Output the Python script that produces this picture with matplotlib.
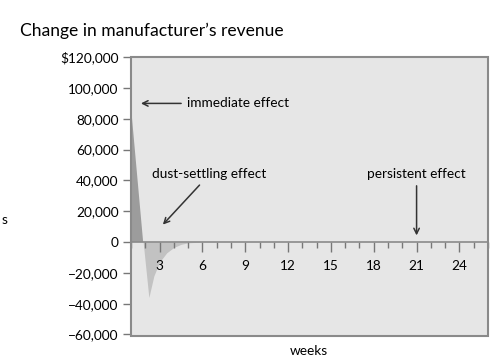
import matplotlib.pyplot as plt
from matplotlib.patches import Rectangle
from matplotlib.ticker import MultipleLocator, FuncFormatter

# weeks after the price change
weeks = [1, 1.85, 2.25, 2.6, 3.0, 3.5, 4.0, 4.5, 5.0, 6, 26]
revenue = [87500, 0, -36000, -22000, -13000, -7000, -3500, -1500, -500, 0, 0]

yticks = [-60000, -40000, -20000, 0, 20000, 40000, 60000, 80000, 100000, 120000]
xticks = [3, 6, 9, 12, 15, 18, 21, 24]

plt.rcParams['font.family'] = ['Lato', 'DejaVu Sans']

fig = plt.figure(figsize=(5.01, 3.57), dpi=100)
ax = fig.add_axes([0.2615, 0.0588, 0.7125, 0.781])
ax.set_facecolor('#e6e6e6')

ax.fill_between(weeks, revenue, 0, where=[v >= 0 for v in revenue],
                color='#9c9c9c', lw=0, interpolate=True)
ax.fill_between(weeks, revenue, 0, where=[v <= 0 for v in revenue],
                color='#c2c2c2', lw=0, interpolate=True)

ax.set_xlim(1, 26)
ax.set_ylim(-61000, 120000)

# frame + zero axis
for s in ['top', 'right', 'left']:
    ax.spines[s].set_color('#8a8a8a')
    ax.spines[s].set_linewidth(1.2)
ax.spines['bottom'].set_position(('data', 0))
ax.spines['bottom'].set_color('#8a8a8a')
ax.spines['bottom'].set_linewidth(1.2)
ax.add_patch(Rectangle((0, 0), 1, 1, transform=ax.transAxes, fill=False,
                       ec='#8a8a8a', lw=1.5, zorder=5, clip_on=False))

ax.set_yticks(yticks)
def yfmt(v, pos):
    if v == 120000:
        return '$120,000'
    if v < 0:
        return '\u2212' + format(int(-v), ',')
    return format(int(v), ',')
ax.yaxis.set_major_formatter(FuncFormatter(yfmt))
ax.tick_params(axis='y', direction='out', length=6, width=1, color='#777777',
               labelsize=9.8, pad=3)

ax.set_xticks(xticks)
ax.xaxis.set_minor_locator(MultipleLocator(1))
ax.tick_params(axis='x', which='major', direction='out', length=7, width=1,
               color='#777777', labelsize=9.8, pad=6)
ax.tick_params(axis='x', which='minor', direction='out', length=4, width=1,
               color='#777777')

fig.text(0.04, 0.915, 'Change in manufacturer\u2019s revenue', fontsize=12.6,
         ha='left', va='center')
fig.text(0.617, 0.018, 'weeks', fontsize=9.8, ha='center', va='center')
fig.text(0.004, 0.383, 's', fontsize=9.8, ha='left', va='center')

arrow = dict(arrowstyle='->', color='#333333', lw=1.1)
ax.annotate('immediate effect', xy=(1.5, 90000), xytext=(4.9, 90000),
            fontsize=9.8, va='center', arrowprops=arrow)
ax.annotate('dust-settling effect', xy=(3.1, 10000), xytext=(2.5, 44000),
            fontsize=9.8, va='center', arrowprops=arrow)
ax.annotate('persistent effect', xy=(21, 2500), xytext=(21, 44000),
            fontsize=9.8, va='center', ha='center', arrowprops=arrow)

fig.savefig('out.png', dpi=100)
